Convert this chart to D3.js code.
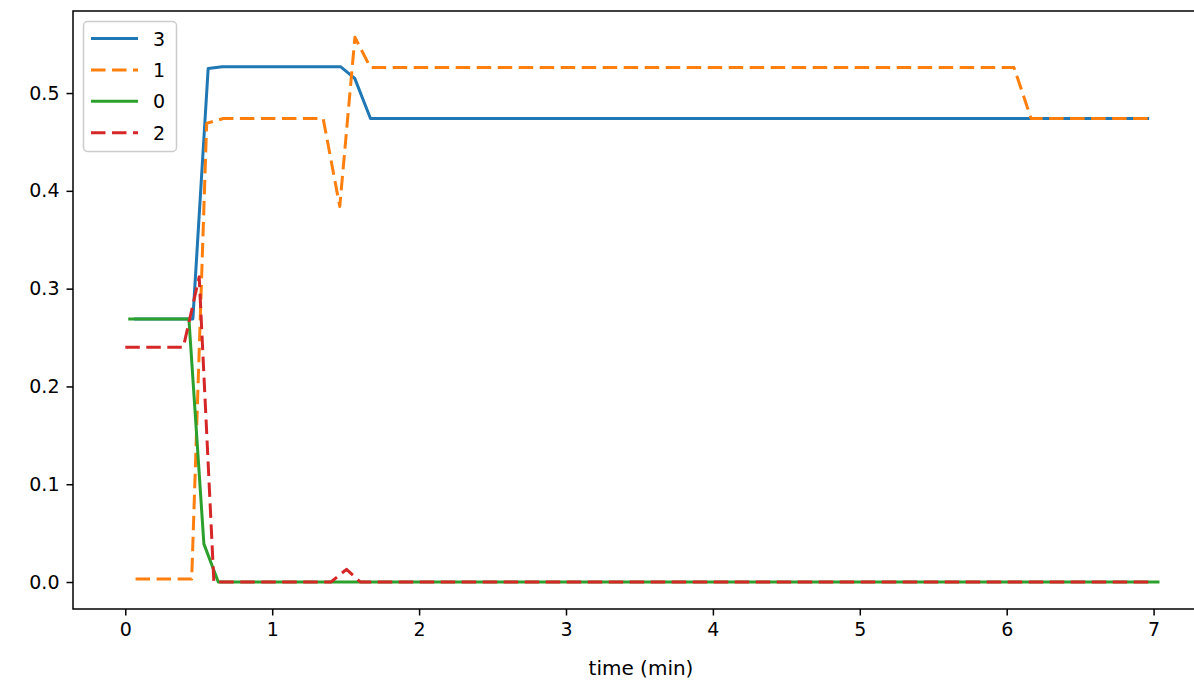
<!DOCTYPE html>
<html>
<head>
<meta charset="utf-8">
<script src="https://cdn.jsdelivr.net/npm/d3@7"></script>
<style>
  html, body { margin: 0; padding: 0; background: #fff; overflow: hidden; }
  svg { display: block; font-family: "DejaVu Sans", sans-serif; }
</style>
</head>
<body>
<svg id="chart" width="1194" height="682"></svg>
<script>
// ---- data ----
const seriesNames = ["3", "1", "0", "2"];
const t3 = [0.06, 0.46, 0.564, 0.66, 1.465, 1.562, 1.669, 6.97];
const v3 = [0.269, 0.269, 0.525, 0.527, 0.527, 0.515, 0.474, 0.474];
const t1 = [0.07, 0.452, 0.554, 0.667, 1.347, 1.46, 1.563, 1.669, 6.05, 6.166, 6.96];
const v1 = [0.003, 0.003, 0.469, 0.474, 0.474, 0.384, 0.557, 0.526, 0.526, 0.474, 0.474];
const t0 = [0.02, 0.433, 0.535, 0.633, 7.04];
const v0 = [0.269, 0.269, 0.039, 0.0, 0.0];
const t2 = [0.0, 0.395, 0.503, 0.603, 1.40, 1.506, 1.60, 7.0];
const v2 = [0.240, 0.240, 0.312, 0.0, 0.0, 0.013, 0.0, 0.0];
const xTicks = [0, 1, 2, 3, 4, 5, 6, 7];
const yTicks = [0.0, 0.1, 0.2, 0.3, 0.4, 0.5];
const xLabel = "time (min)";

const series = [
  {name: seriesNames[0], t: t3, v: v3, color: "#1f77b4", dash: null},
  {name: seriesNames[1], t: t1, v: v1, color: "#ff7f0e", dash: "14.5,6.5"},
  {name: seriesNames[2], t: t0, v: v0, color: "#2ca02c", dash: null},
  {name: seriesNames[3], t: t2, v: v2, color: "#d62728", dash: "14.5,6.5"}
];

const svg = d3.select("#chart");
const pLeft = 73, pTop = 11, pRight = 1210, pBottom = 609;

const x = d3.scaleLinear().domain([-0.356, 7.384]).range([pLeft, pRight]);
const y = d3.scaleLinear().domain([-0.0276, 0.5839]).range([pBottom, pTop]);

// lines
const line = d3.line().x(d => x(d[0])).y(d => y(d[1]));
const g = svg.append("g");
series.forEach(s => {
  const pts = s.t.map((tt, i) => [tt, s.v[i]]);
  g.append("path")
    .attr("d", line(pts))
    .attr("fill", "none")
    .attr("stroke", s.color)
    .attr("stroke-width", 3)
    .attr("stroke-linejoin", "round")
    .attr("stroke-linecap", "butt")
    .attr("stroke-dasharray", s.dash);
});

// axes
const xAxis = d3.axisBottom(x).tickValues(xTicks).tickFormat(d3.format("d")).tickSize(6.5).tickPadding(7);
const yAxis = d3.axisLeft(y).tickValues(yTicks).tickFormat(d3.format(".1f")).tickSize(6.5).tickPadding(7);

const gx = svg.append("g").attr("transform", `translate(0,${pBottom})`).call(xAxis);
const gy = svg.append("g").attr("transform", `translate(${pLeft},0)`).call(yAxis);
[gx, gy].forEach(a => {
  a.select(".domain").remove();
  a.selectAll(".tick line").attr("stroke", "#000").attr("stroke-width", 1.5);
  a.selectAll(".tick text").attr("fill", "#000").style("font-size", "19px").style("font-family", "DejaVu Sans");
});

// spines
svg.append("rect")
  .attr("x", pLeft).attr("y", pTop)
  .attr("width", pRight - pLeft).attr("height", pBottom - pTop)
  .attr("fill", "none").attr("stroke", "#000").attr("stroke-width", 1.5);

// x label
svg.append("text")
  .attr("x", 641).attr("y", 675)
  .attr("text-anchor", "middle")
  .style("font-size", "20px")
  .text(xLabel);

// legend
const lg = svg.append("g");
lg.append("rect")
  .attr("x", 83.5).attr("y", 21.5).attr("width", 93).attr("height", 130)
  .attr("rx", 4).attr("fill", "#fff").attr("fill-opacity", 0.8)
  .attr("stroke", "#cccccc").attr("stroke-width", 1.5);
series.forEach((s, i) => {
  const yy = 38.5 + i * 31.4;
  lg.append("line")
    .attr("x1", 91).attr("x2", 138).attr("y1", yy).attr("y2", yy)
    .attr("stroke", s.color).attr("stroke-width", 3)
    .attr("stroke-dasharray", s.dash);
  lg.append("text")
    .attr("x", 153).attr("y", yy + 7)
    .style("font-size", "19px")
    .text(s.name);
});
</script>
</body>
</html>
